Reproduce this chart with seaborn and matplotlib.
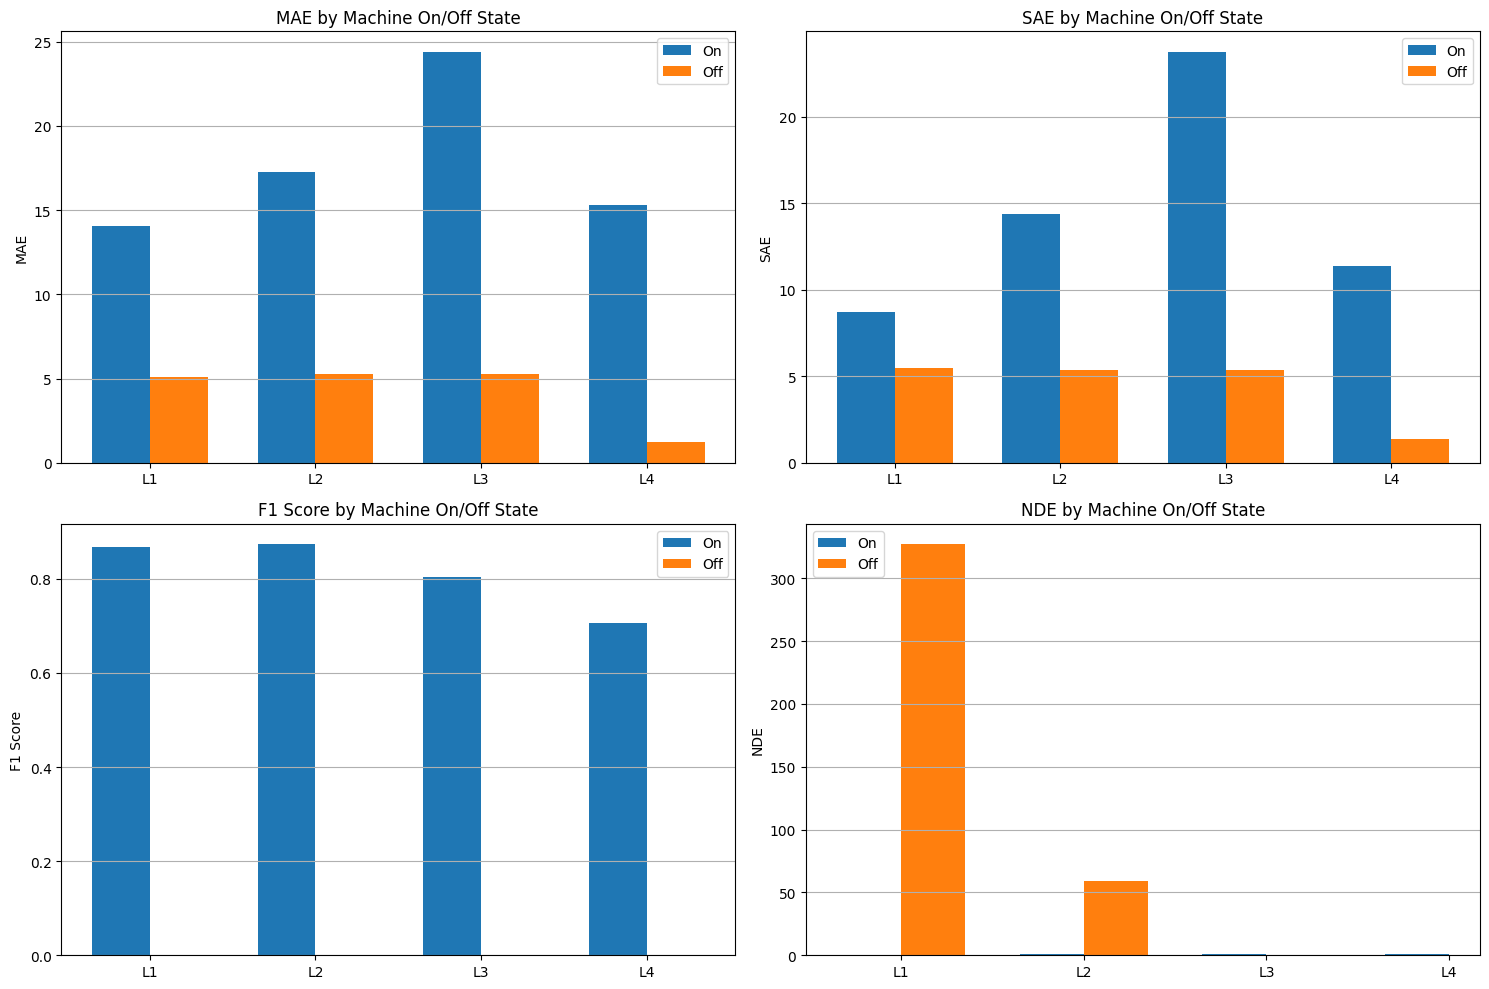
import numpy as np
import pandas as pd
import matplotlib
matplotlib.use('Agg')
import matplotlib.pyplot as plt
import seaborn as sns

lines = ['L1', 'L2', 'L3', 'L4']
states = ['On', 'Off']

mae_on = [14.07, 17.28, 24.4, 15.32]
mae_off = [5.1, 5.28, 5.28, 1.25]
sae_on = [8.73, 14.39, 23.76, 11.39]
sae_off = [5.49, 5.38, 5.38, 1.39]
f1_on = [0.868, 0.873, 0.803, 0.705]
f1_off = [0.0, 0.0, 0.0, 0.0]
nde_on = [0.0, 0.9, 0.9, 0.9]
nde_off = [327.0, 58.9, 0.0, np.nan]

metrics = [
    ('MAE', mae_on, mae_off),
    ('SAE', sae_on, sae_off),
    ('F1 Score', f1_on, f1_off),
    ('NDE', nde_on, nde_off),
]

fig, axes = plt.subplots(2, 2, figsize=(15, 10), dpi=100)

for ax, (name, on_vals, off_vals) in zip(axes.flat, metrics):
    df = pd.DataFrame({
        'Line': lines * 2,
        'State': ['On'] * 4 + ['Off'] * 4,
        'Value': list(on_vals) + list(off_vals),
    }).dropna()
    sns.barplot(data=df, x='Line', y='Value', hue='State', hue_order=states,
                order=lines, palette=['#1f77b4', '#ff7f0e'], width=0.7,
                errorbar=None, saturation=1, ax=ax)
    ax.autoscale(enable=True, axis='x')
    ax.set_title(f'{name} by Machine On/Off State')
    ax.set_ylabel(name)
    ax.set_xlabel('')
    ax.grid(axis='y')
    ax.grid(axis='x', visible=False)
    ax.legend(loc='upper left' if name == 'NDE' else 'upper right')

plt.tight_layout()
plt.savefig('out.png', dpi=100, bbox_inches='tight')
